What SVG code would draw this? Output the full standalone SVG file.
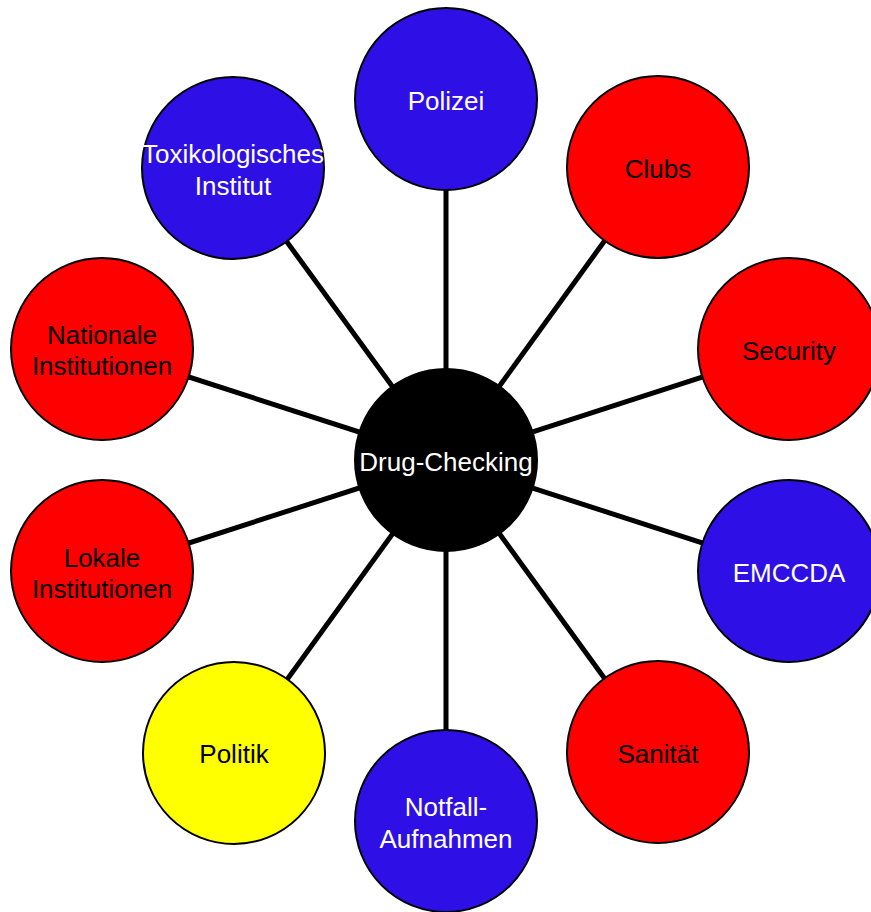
<svg xmlns="http://www.w3.org/2000/svg" width="871" height="912" viewBox="0 0 871 912">
<style>
.c{stroke:#000;stroke-width:2}
.blue{fill:#2e0fe6}
.red{fill:#ff0000}
.yel{fill:#ffff00}
.blk{fill:#000}
text{font-family:"Liberation Sans",Arial,sans-serif;font-size:26px;text-anchor:middle}
.w{fill:#fff}
.k{fill:#000}
.ln{stroke:#000;stroke-width:5}
</style>
<rect width="871" height="912" fill="#fff"/>
<g id="connectors">
<line class="ln" x1="446" y1="460" x2="446" y2="99"/>
<line class="ln" x1="446" y1="460" x2="658" y2="167"/>
<line class="ln" x1="446" y1="460" x2="789" y2="349"/>
<line class="ln" x1="446" y1="460" x2="789" y2="571"/>
<line class="ln" x1="446" y1="460" x2="658" y2="752"/>
<line class="ln" x1="446" y1="460" x2="446" y2="821"/>
<line class="ln" x1="446" y1="460" x2="234" y2="753"/>
<line class="ln" x1="446" y1="460" x2="102" y2="571"/>
<line class="ln" x1="446" y1="460" x2="102" y2="349"/>
<line class="ln" x1="446" y1="460" x2="233" y2="168"/>
</g>
<g id="polizei"><circle class="c blue" cx="446" cy="99" r="91"/><text class="w" x="446" y="110">Polizei</text></g>
<g id="clubs"><circle class="c red" cx="658" cy="167" r="91"/><text class="k" x="658" y="178">Clubs</text></g>
<g id="security"><circle class="c red" cx="789" cy="349" r="91"/><text class="k" x="789" y="360">Security</text></g>
<g id="emccda"><circle class="c blue" cx="789" cy="571" r="91"/><text class="w" x="789" y="582">EMCCDA</text></g>
<g id="sanitaet"><circle class="c red" cx="658" cy="752" r="91"/><text class="k" x="658" y="763">Sanität</text></g>
<g id="notfall"><circle class="c blue" cx="446" cy="821" r="91"/><text class="w" x="446" y="816">Notfall-</text><text class="w" x="446" y="848">Aufnahmen</text></g>
<g id="politik"><circle class="c yel" cx="234" cy="753" r="91"/><text class="k" x="234" y="763">Politik</text></g>
<g id="lokale"><circle class="c red" cx="102" cy="571" r="91"/><text class="k" x="102" y="567">Lokale</text><text class="k" x="102" y="598">Institutionen</text></g>
<g id="nationale"><circle class="c red" cx="102" cy="349" r="91"/><text class="k" x="102" y="344">Nationale</text><text class="k" x="102" y="375">Institutionen</text></g>
<g id="toxikologisches"><circle class="c blue" cx="233" cy="168" r="91"/><text class="w" x="233" y="163">Toxikologisches</text><text class="w" x="233" y="195">Institut</text></g>
<g id="drug-checking"><circle class="c blk" cx="446" cy="460" r="91"/><text class="w" x="446" y="471">Drug-Checking</text></g>
</svg>
